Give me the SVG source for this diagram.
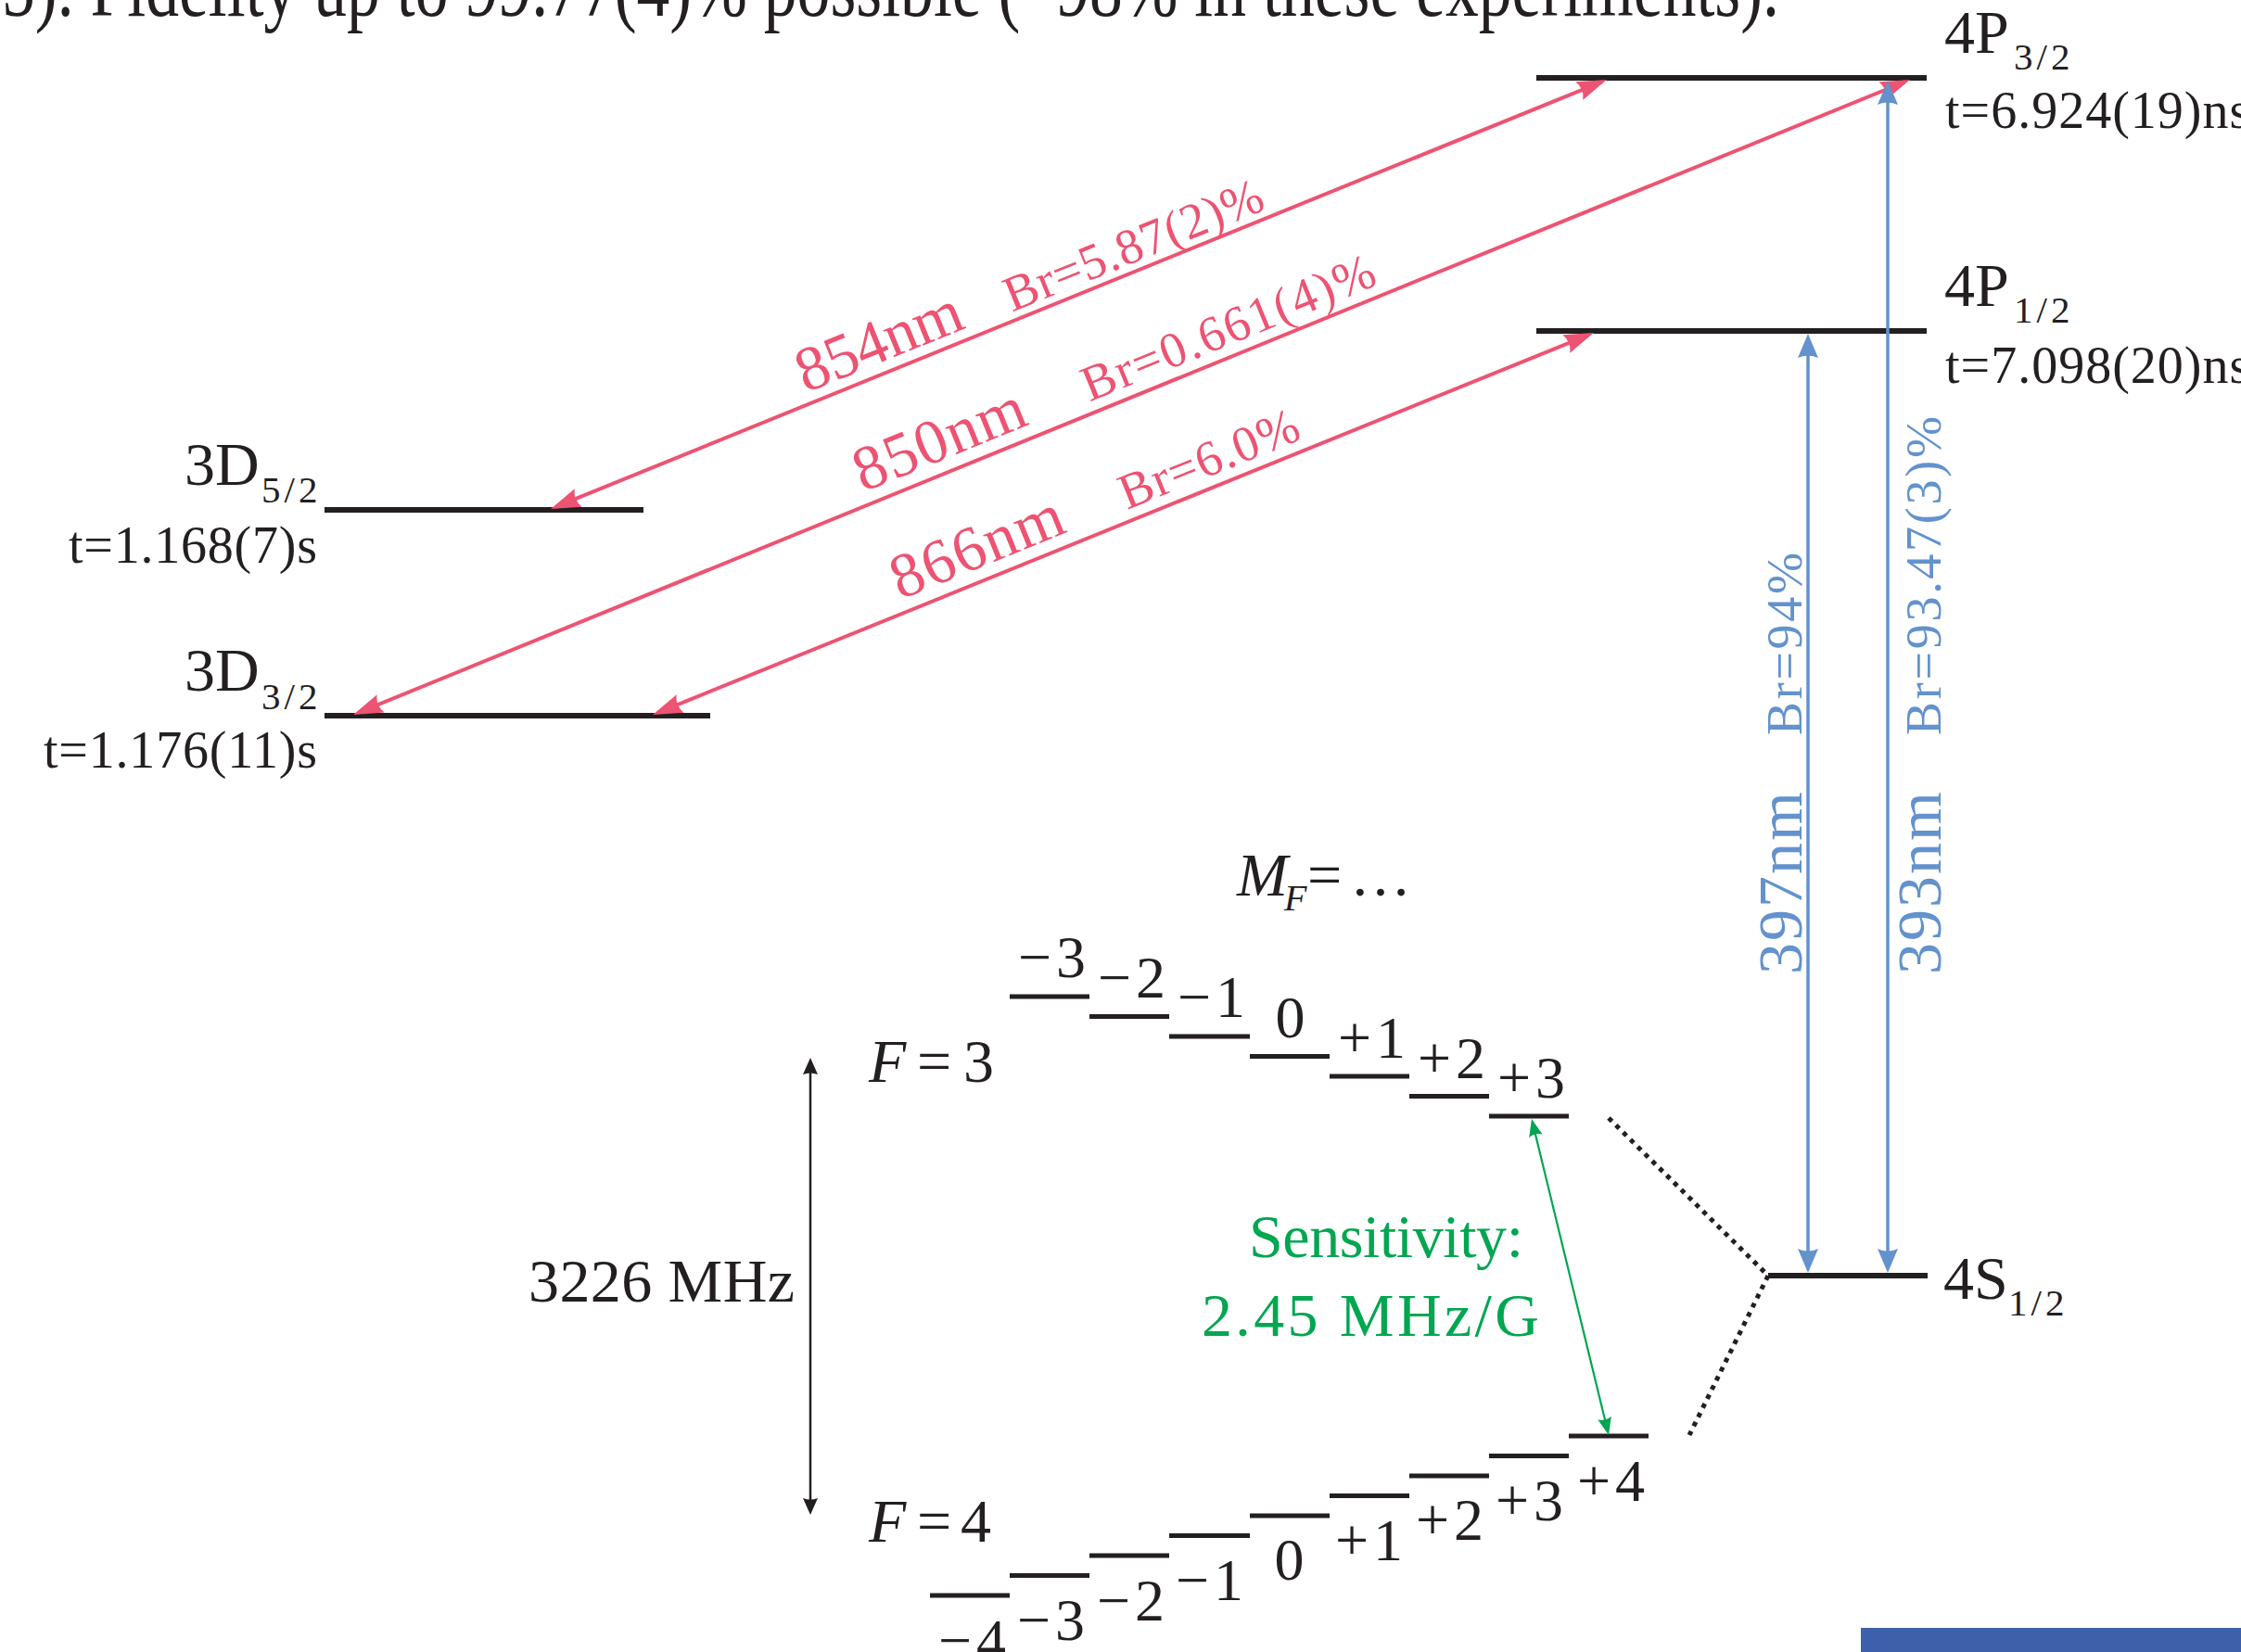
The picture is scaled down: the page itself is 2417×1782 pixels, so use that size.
<svg xmlns="http://www.w3.org/2000/svg" width="2417" height="1782" viewBox="0 0 2417 1782">
<style>
.t{font-family:"Liberation Serif","Times New Roman",serif;fill:#231F20}
.lvl{stroke:#231F20;stroke-width:6;fill:none}
.hf{stroke:#231F20;stroke-width:5;fill:none}
.red{fill:#ED5372}
.blue{fill:#6392CD}
.green{fill:#00A650}
.redl{stroke:#ED5372;stroke-width:4;fill:none;marker-start:url(#mr);marker-end:url(#mr)}
.bluel{stroke:#6392CD;stroke-width:3.5;fill:none;marker-start:url(#mb);marker-end:url(#mb)}
.greenl{stroke:#00A650;stroke-width:2.2;fill:none;marker-start:url(#mg);marker-end:url(#mg)}
.blkl{stroke:#231F20;stroke-width:2.5;fill:none;marker-start:url(#mk);marker-end:url(#mk)}
.dot{stroke:#231F20;stroke-width:5;stroke-dasharray:5 6;fill:none}
.nm{font-size:68px}
.br{font-size:54px}
.lab{font-size:66px}
.sub{font-size:41px;letter-spacing:4px}
.life{font-size:56px;letter-spacing:1px}
.mf{font-size:64px;letter-spacing:5px;text-anchor:middle}
</style>
<defs>
<marker id="mr" markerUnits="userSpaceOnUse" orient="auto-start-reverse" overflow="visible" refX="0" refY="0" markerWidth="1" markerHeight="1"><path d="M6,0 L-26,-10.5 Q-20,0 -26,10.5 Z" fill="#ED5372"/></marker>
<marker id="mb" markerUnits="userSpaceOnUse" orient="auto-start-reverse" overflow="visible" refX="0" refY="0" markerWidth="1" markerHeight="1"><path d="M5,0 L-21,-11 Q-16,0 -21,11 Z" fill="#6392CD"/></marker>
<marker id="mg" markerUnits="userSpaceOnUse" orient="auto-start-reverse" overflow="visible" refX="0" refY="0" markerWidth="1" markerHeight="1"><path d="M4,0 L-15,-7.5 Q-11,0 -15,7.5 Z" fill="#00A650"/></marker>
<marker id="mk" markerUnits="userSpaceOnUse" orient="auto-start-reverse" overflow="visible" refX="0" refY="0" markerWidth="1" markerHeight="1"><path d="M4,0 L-14,-8 Q-11,0 -14,8 Z" fill="#231F20"/></marker>
</defs>
<rect width="2417" height="1782" fill="#FFFFFF"/>

<text class="t" x="2" y="17" font-size="92" textLength="1917" lengthAdjust="spacingAndGlyphs">5). Fidelity up to 99.77(4)% possible (~98% in these experiments).</text>

<g id="level-4P32">
<line class="lvl" x1="1657" y1="84" x2="2078" y2="84"/>
<text class="t lab" x="2097" y="57">4P</text>
<text class="t sub" x="2172" y="75">3/2</text>
<text class="t life" x="2098" y="138">t=6.924(19)ns</text>
</g>
<g id="level-4P12">
<line class="lvl" x1="1657" y1="357" x2="2078" y2="357"/>
<text class="t lab" x="2097" y="330">4P</text>
<text class="t sub" x="2172" y="348">1/2</text>
<text class="t life" x="2098" y="413">t=7.098(20)ns</text>
</g>
<g id="level-3D52">
<line class="lvl" x1="350" y1="550" x2="694" y2="550"/>
<text class="t lab" x="199" y="523">3D</text>
<text class="t sub" x="282" y="542">5/2</text>
<text class="t life" x="74" y="607" textLength="269" lengthAdjust="spacing">t=1.168(7)s</text>
</g>
<g id="level-3D32">
<line class="lvl" x1="350" y1="772" x2="766" y2="772"/>
<text class="t lab" x="199" y="745">3D</text>
<text class="t sub" x="282" y="765">3/2</text>
<text class="t life" x="47" y="828" textLength="296" lengthAdjust="spacing">t=1.176(11)s</text>
</g>
<g id="level-4S12">
<line class="lvl" x1="1907" y1="1376" x2="2079" y2="1376"/>
<text class="t lab" x="2096" y="1401">4S</text>
<text class="t sub" x="2166" y="1419">1/2</text>
</g>

<g id="hyperfine-F3">
<text class="t" x="937" y="1167" font-size="66"><tspan font-style="italic">F</tspan><tspan x="989">=</tspan><tspan x="1039">3</tspan></text>
<line class="hf" x1="1089" y1="1075" x2="1175" y2="1075"/>
<line class="hf" x1="1175" y1="1096.5" x2="1261" y2="1096.5"/>
<line class="hf" x1="1261" y1="1118" x2="1348" y2="1118"/>
<line class="hf" x1="1348" y1="1139.5" x2="1434" y2="1139.5"/>
<line class="hf" x1="1434" y1="1161" x2="1520" y2="1161"/>
<line class="hf" x1="1520" y1="1182.5" x2="1606" y2="1182.5"/>
<line class="hf" x1="1606" y1="1204" x2="1692" y2="1204"/>
<text class="t mf" x="1137" y="1054">−3</text>
<text class="t mf" x="1223" y="1076">−2</text>
<text class="t mf" x="1309" y="1097">−1</text>
<text class="t mf" x="1394" y="1119">0</text>
<text class="t mf" x="1482" y="1141">+1</text>
<text class="t mf" x="1568" y="1163">+2</text>
<text class="t mf" x="1654" y="1184">+3</text>
</g>

<g id="hyperfine-F4">
<text class="t" x="937" y="1663" font-size="66"><tspan font-style="italic">F</tspan><tspan x="989">=</tspan><tspan x="1036">4</tspan></text>
<line class="hf" x1="1003" y1="1721" x2="1089" y2="1721"/>
<line class="hf" x1="1089" y1="1699.5" x2="1175" y2="1699.5"/>
<line class="hf" x1="1175" y1="1678" x2="1261" y2="1678"/>
<line class="hf" x1="1261" y1="1656.5" x2="1348" y2="1656.5"/>
<line class="hf" x1="1348" y1="1635" x2="1434" y2="1635"/>
<line class="hf" x1="1434" y1="1613.5" x2="1520" y2="1613.5"/>
<line class="hf" x1="1520" y1="1592" x2="1606" y2="1592"/>
<line class="hf" x1="1606" y1="1570.5" x2="1692" y2="1570.5"/>
<line class="hf" x1="1692" y1="1549" x2="1778" y2="1549"/>
<text class="t mf" x="1051" y="1791">−4</text>
<text class="t mf" x="1136" y="1769">−3</text>
<text class="t mf" x="1222" y="1748">−2</text>
<text class="t mf" x="1307" y="1726">−1</text>
<text class="t mf" x="1393" y="1704">0</text>
<text class="t mf" x="1479" y="1683">+1</text>
<text class="t mf" x="1566" y="1661">+2</text>
<text class="t mf" x="1652" y="1640">+3</text>
<text class="t mf" x="1740" y="1619">+4</text>
</g>

<g id="mf-label">
<text class="t" font-size="66" y="966"><tspan x="1334" font-style="italic">M</tspan><tspan x="1385" y="982" font-size="40" font-style="italic">F</tspan><tspan x="1410" y="966">=</tspan><tspan x="1456">…</tspan></text>
</g>

<g id="splitting-label">
<text class="t" x="570" y="1404" font-size="66" textLength="287" lengthAdjust="spacing">3226 MHz</text>
</g>

<g id="sensitivity-label">
<text class="green" font-family="Liberation Serif, serif" x="1347" y="1356" font-size="66" textLength="296" lengthAdjust="spacing">Sensitivity:</text>
<text class="green" font-family="Liberation Serif, serif" x="1296" y="1441" font-size="66" textLength="364" lengthAdjust="spacing">2.45 MHz/G</text>
</g>

<g id="connectors">
<line class="redl" x1="599.6" y1="546.7" x2="1727.4" y2="88.3"/>
<line class="redl" x1="386.6" y1="768.7" x2="2054.4" y2="88.3"/>
<line class="redl" x1="709.6" y1="768.7" x2="1713.4" y2="361.3"/>
<line class="bluel" x1="1950" y1="365" x2="1950" y2="1368"/>
<line class="bluel" x1="2036" y1="92" x2="2036" y2="1368"/>
<line class="greenl" x1="1652.9" y1="1210.9" x2="1734.1" y2="1544.1"/>
<line class="blkl" x1="874" y1="1145" x2="874" y2="1630"/>
<polyline class="dot" points="1735,1206 1907,1376 1822,1548"/>
</g>

<g id="connector-labels">
<g transform="translate(869,424) rotate(-22.12)">
<text class="red nm" font-family="Liberation Serif, serif" x="0" y="0" textLength="188" lengthAdjust="spacing">854nm</text>
<text class="red br" font-family="Liberation Serif, serif" x="239" y="3" textLength="297" lengthAdjust="spacing">Br=5.87(2)%</text>
</g>
<g transform="translate(931,531) rotate(-22.19)">
<text class="red nm" font-family="Liberation Serif, serif" x="0" y="0" textLength="195" lengthAdjust="spacing">850nm</text>
<text class="red br" font-family="Liberation Serif, serif" x="263" y="2" textLength="337" lengthAdjust="spacing">Br=0.661(4)%</text>
</g>
<g transform="translate(971,647) rotate(-22.09)">
<text class="red nm" font-family="Liberation Serif, serif" x="0" y="0" textLength="196" lengthAdjust="spacing">866nm</text>
<text class="red br" font-family="Liberation Serif, serif" x="263" y="2" textLength="205" lengthAdjust="spacing">Br=6.0%</text>
</g>
<g transform="translate(1943,1051) rotate(-90)">
<text class="blue nm" font-family="Liberation Serif, serif" x="0" y="0" font-size="70" textLength="197" lengthAdjust="spacing">397nm</text>
<text class="blue br" font-family="Liberation Serif, serif" x="258" y="0" font-size="56" textLength="197" lengthAdjust="spacing">Br=94%</text>
</g>
<g transform="translate(2093,1051) rotate(-90)">
<text class="blue nm" font-family="Liberation Serif, serif" x="0" y="0" font-size="70" textLength="197" lengthAdjust="spacing">393nm</text>
<text class="blue br" font-family="Liberation Serif, serif" x="258" y="0" font-size="56" textLength="344" lengthAdjust="spacing">Br=93.47(3)%</text>
</g>
</g>

<rect x="2007" y="1756" width="410" height="26" fill="#3E5FA9"/>
</svg>
